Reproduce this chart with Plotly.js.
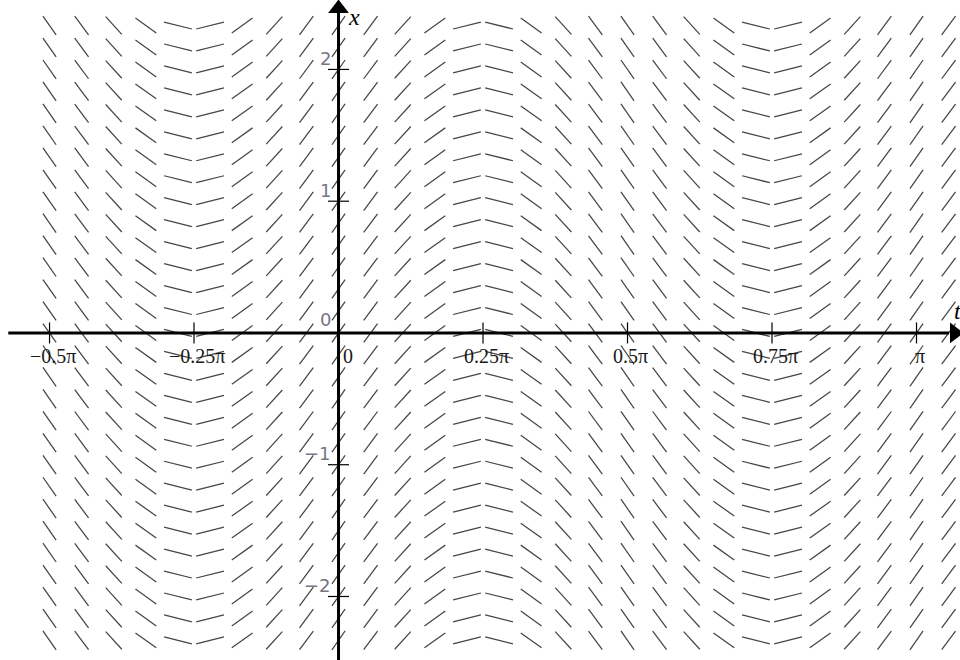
<!DOCTYPE html>
<html>
<head>
<meta charset="utf-8">
<script src="https://cdn.plot.ly/plotly-3.0.1.min.js"></script>
<style>html,body{margin:0;padding:0;background:#fff;}#chart{width:960px;height:660px;}</style>
</head>
<body>
<div id="chart"></div>
<script>
// Slope field dx/dt = 2cos(2t): columns at t = k*pi/18, rows at x = j/6
const columnSteps = [-9,-8,-7,-6,-5,-4,-3,-2,-1,0,1,2,3,4,5,6,7,8,9,10,11,12,13,14,15,16,17,18,19];
const columnSlopes = [-2.0,-1.88,-1.53,-1.0,-0.35,0.35,1.0,1.53,1.88,2.0,1.88,1.53,1.0,0.35,-0.35,-1.0,-1.53,-1.88,-2.0,-1.88,-1.53,-1.0,-0.35,0.35,1.0,1.53,1.88,2.0,1.88];
const rowSixths = [-14,-13,-12,-11,-10,-9,-8,-7,-6,-5,-4,-3,-2,-1,0,1,2,3,4,5,6,7,8,9,10,11,12,13,14];
const xTickVals = [-0.5*Math.PI, -0.25*Math.PI, 0, 0.25*Math.PI, 0.5*Math.PI, 0.75*Math.PI, Math.PI];
const xTickText = ['−0.5π','−0.25π','0','0.25π','0.5π','0.75π','π'];
const yTickVals = [-2,-1,0,1,2];
const yTickText = ['−2','−1','0','1','2'];

const T_RANGE = [-1.84, 3.378];
const X_RANGE = [-2.482, 2.527];
const HALF = 0.08;

const segT = [], segX = [];
columnSteps.forEach((k, i) => {
  const t = k * Math.PI / 18;
  const s = columnSlopes[i];
  const dt = HALF / Math.sqrt(1 + s*s);
  const dx = s * dt;
  rowSixths.forEach(j => {
    const x = j / 6;
    segT.push(t - dt, t + dt, null);
    segX.push(x - dx, x + dx, null);
  });
});

const traces = [
  {x: segT, y: segX, mode: 'lines', line: {color: '#454545', width: 1.25}, hoverinfo: 'skip'},
  // axes
  {x: [T_RANGE[0] + 0.045, T_RANGE[1] - 0.06], y: [0, 0], mode: 'lines', line: {color: '#000', width: 3}, hoverinfo: 'skip'},
  {x: [0, 0], y: [X_RANGE[0], X_RANGE[1] - 0.08], mode: 'lines', line: {color: '#000', width: 3}, hoverinfo: 'skip'},
  {x: [T_RANGE[1] - 0.03], y: [0], mode: 'markers', marker: {symbol: 'triangle-right', size: 18, color: '#000'}, hoverinfo: 'skip'},
  {x: [0], y: [X_RANGE[1] - 0.065], mode: 'markers', marker: {symbol: 'triangle-up', size: 18, color: '#000'}, hoverinfo: 'skip'},
  // tick marks
  {x: xTickVals, y: xTickVals.map(() => 0), mode: 'markers', marker: {symbol: 'line-ns-open', size: 15, color: '#000', line: {color: '#000', width: 1.2}}, hoverinfo: 'skip'},
  {x: yTickVals.map(() => 0), y: yTickVals, mode: 'markers', marker: {symbol: 'line-ew-open', size: 15, color: '#000', line: {color: '#000', width: 1.2}}, hoverinfo: 'skip'}
];

const annotations = [];
xTickVals.forEach((v, i) => {
  annotations.push({x: v, y: 0, xref: 'x', yref: 'y', text: xTickText[i], showarrow: false,
    xanchor: 'center', yanchor: 'middle', yshift: -23, xshift: (v === 0 ? 9 : 3),
    font: {family: 'Liberation Serif, Times New Roman, serif', size: 20, color: '#1a1a1a'}});
});
yTickVals.forEach((v, i) => {
  annotations.push({x: 0, y: v, xref: 'x', yref: 'y', text: yTickText[i], showarrow: false,
    xanchor: 'right', yanchor: 'middle', xshift: -6, yshift: (v === 0 ? 13 : 11),
    font: {family: 'DejaVu Sans, sans-serif', size: 18, color: '#767682'}});
});
annotations.push({x: 0, y: X_RANGE[1], xref: 'x', yref: 'y', text: '<i>x</i>', showarrow: false,
  xanchor: 'left', yanchor: 'top', xshift: 7, yshift: -2,
  font: {family: 'Liberation Serif, Times New Roman, serif', size: 24, color: '#000'}});
annotations.push({x: T_RANGE[1], y: 0, xref: 'x', yref: 'y', text: '<i>t</i>', showarrow: false,
  xanchor: 'center', yanchor: 'middle', xshift: -2, yshift: 22,
  font: {family: 'Liberation Serif, Times New Roman, serif', size: 24, color: '#000'}});

const layout = {
  width: 960, height: 660,
  margin: {l: 0, r: 0, t: 0, b: 0},
  paper_bgcolor: '#fff', plot_bgcolor: '#fff',
  showlegend: false,
  xaxis: {range: T_RANGE, showgrid: false, zeroline: false, showticklabels: false, showline: false, ticks: ''},
  yaxis: {range: X_RANGE, showgrid: false, zeroline: false, showticklabels: false, showline: false, ticks: ''},
  annotations: annotations
};

Plotly.newPlot('chart', traces, layout, {displayModeBar: false, staticPlot: true});
</script>
</body>
</html>
